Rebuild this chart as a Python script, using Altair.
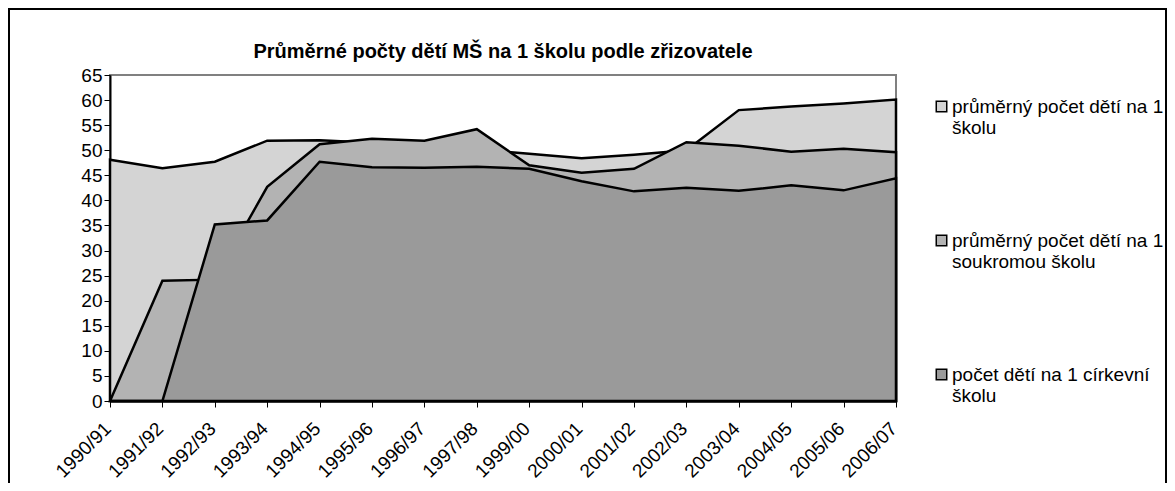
import altair as alt
import pandas as pd

years = ["1990/91", "1991/92", "1992/93", "1993/94", "1994/95", "1995/96", "1996/97",
         "1997/98", "1999/00", "2000/01", "2001/02", "2002/03", "2003/04", "2004/05",
         "2005/06", "2006/07"]
all_schools = [48.1, 46.4, 47.7, 51.9, 52.0, 51.5, 51.0, 50.2, 49.3, 48.4, 49.1, 50.0,
               58.0, 58.7, 59.3, 60.1]
private_schools = [0, 24.0, 24.2, 42.7, 51.2, 52.3, 51.9, 54.2, 47.0, 45.5, 46.3, 51.6,
                   50.9, 49.7, 50.3, 49.6]
church_schools = [0, 0, 35.2, 36.0, 47.7, 46.6, 46.5, 46.7, 46.3, 43.8, 41.8, 42.5,
                  41.9, 43.0, 42.0, 44.4]

series_names = [
    "průměrný počet dětí na 1 školu",
    "průměrný počet dětí na 1 soukromou školu",
    "počet dětí na 1 církevní školu",
]
series_colors = ["#d4d4d4", "#b3b3b3", "#9a9a9a"]

rows = []
for name, vals in zip(series_names, [all_schools, private_schools, church_schools]):
    for y, v in zip(years, vals):
        rows.append({"rok": y, "hodnota": v, "serie": name})
df = pd.DataFrame(rows)

FONT = "Liberation Sans"

color = alt.Color(
    "serie:N",
    scale=alt.Scale(domain=series_names, range=series_colors),
    legend=alt.Legend(
        title=None,
        orient="none",
        legendX=822,
        legendY=22,
        symbolType="square",
        symbolSize=110,
        symbolStrokeColor="black",
        symbolStrokeWidth=1.5,
        labelFontSize=19,
        labelFont=FONT,
        labelColor="black",
        labelLimit=300,
        labelOffset=1,
        rowPadding=93,
        labelExpr="datum.label == 'průměrný počet dětí na 1 školu' ? ['průměrný počet dětí na 1', 'školu'] : datum.label == 'průměrný počet dětí na 1 soukromou školu' ? ['průměrný počet dětí na 1', 'soukromou školu'] : ['počet dětí na 1 církevní', 'školu']",
    ),
)

x = alt.X(
    "rok:O",
    sort=years,
    scale=alt.Scale(padding=0),
    axis=alt.Axis(
        title=None,
        labelAngle=-45,
        labelFontSize=19,
        labelFont=FONT,
        labelColor="black",
        tickColor="black",
        tickSize=6,
        domainColor="black",
        domainWidth=2,
        labelPadding=12,
        labelOffset=-9,
    ),
)
y = alt.Y(
    "hodnota:Q",
    scale=alt.Scale(domain=[0, 65], nice=False),
    axis=alt.Axis(
        title=None,
        values=list(range(0, 66, 5)),
        labelFontSize=19,
        labelFont=FONT,
        labelColor="black",
        tickColor="black",
        tickSize=6,
        domainColor="black",
        domainWidth=2,
        grid=False,
        labelPadding=2,
    ),
)

layers = []
for name in series_names:
    layers.append(
        alt.Chart(df)
        .transform_filter(alt.datum.serie == name)
        .mark_area(stroke="black", strokeWidth=2.5, strokeJoin="miter", opacity=1)
        .encode(x=x, y=y, color=color)
    )

frame = alt.Chart(df).mark_rect(fill=None, stroke="black", strokeWidth=1.5).encode(
    x=alt.value(-101), x2=alt.value(1056), y=alt.value(-66), y2=alt.value(430)
)

chart = (
    alt.layer(*layers, frame)
    .properties(
        width=786,
        height=326,
        title=alt.TitleParams(
            "Průměrné počty dětí MŠ na 1 školu podle zřizovatele",
            font=FONT,
            fontSize=20,
            fontWeight="bold",
            color="black",
            anchor="middle",
            baseline="alphabetic",
            offset=0,
            dy=70,
        ),
        autosize=alt.AutoSizeParams(type="none"),
        padding={"left": 102, "top": 67, "right": 271, "bottom": 82},
    )
    .configure_view(stroke="#808080", strokeWidth=2)
)

chart.save("out.html", embed_options={"renderer": "svg", "actions": False})
